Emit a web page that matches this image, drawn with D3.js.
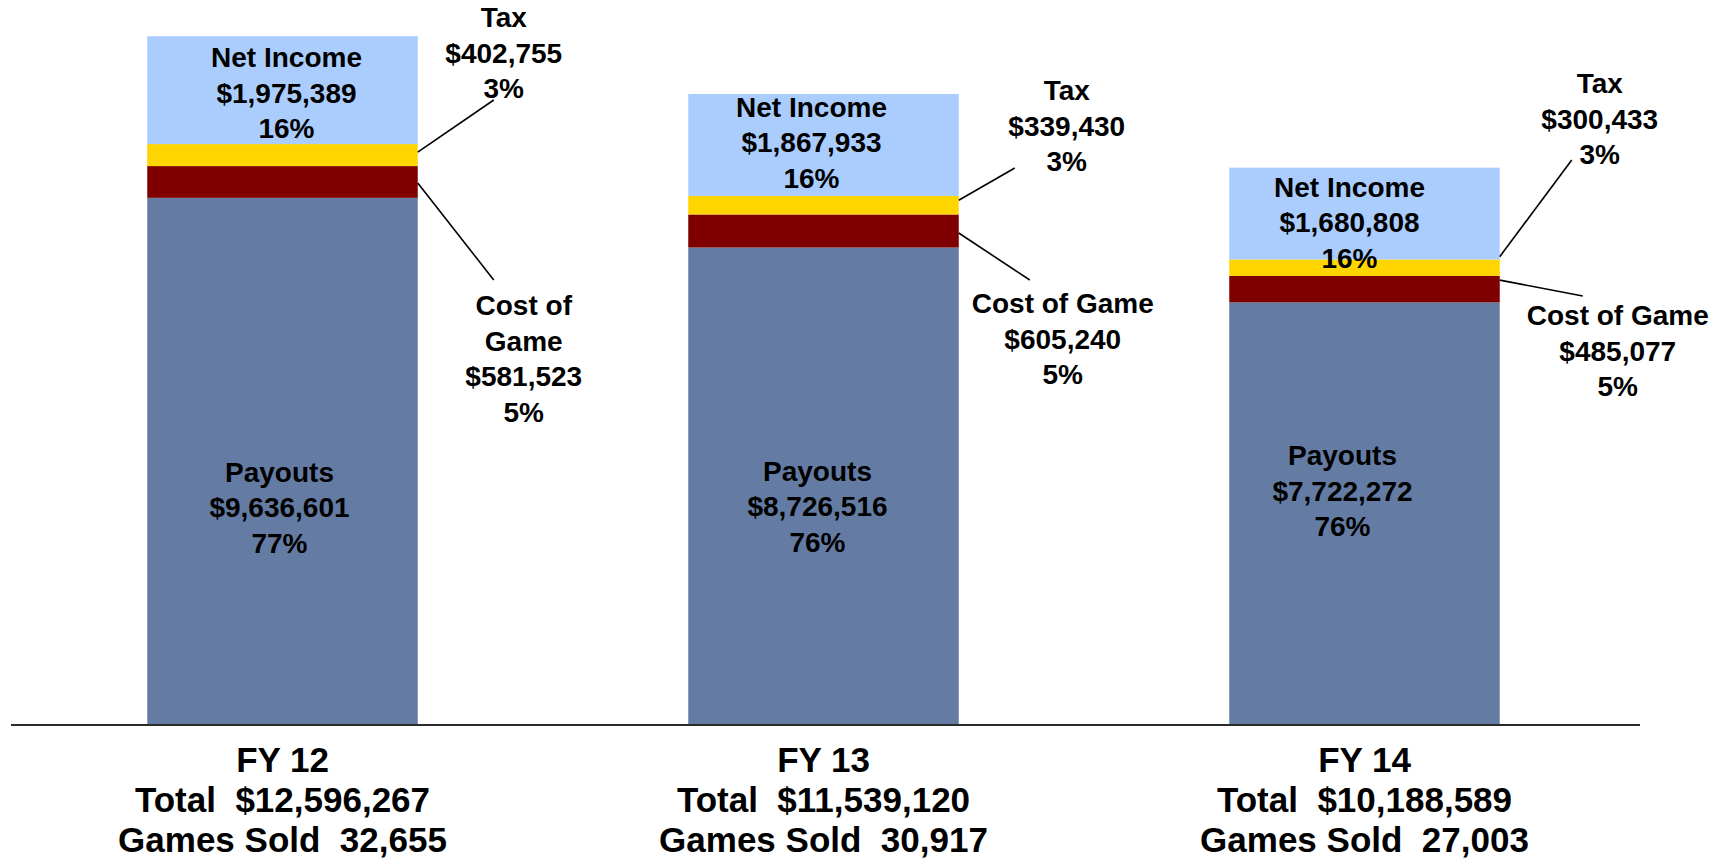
<!DOCTYPE html>
<html>
<head>
<meta charset="utf-8">
<script src="https://cdn.jsdelivr.net/npm/d3@7"></script>
<style>
  html, body { margin: 0; padding: 0; background: #ffffff; }
  svg { display: block; }
  text { font-family: "Liberation Sans", Arial, "DejaVu Sans", sans-serif; font-weight: bold; fill: #000; white-space: pre; }
</style>
</head>
<body>
<svg id="chart" width="1718" height="859"></svg>
<script>
// ---------------- data ----------------
const categories  = ["FY 12", "FY 13", "FY 14"];
const payouts     = [9636601, 8726516, 7722272];
const costOfGame  = [581523, 605240, 485077];
const tax         = [402755, 339430, 300433];
const netIncome   = [1975389, 1867933, 1680808];
const payoutsPct  = ["77%", "76%", "76%"];
const costPct     = ["5%", "5%", "5%"];
const taxPct      = ["3%", "3%", "3%"];
const netPct      = ["16%", "16%", "16%"];
const totals      = [12596267, 11539120, 10188589];
const gamesSold   = [32655, 30917, 27003];
const seriesNames = ["Payouts", "Cost of Game", "Tax", "Net Income"];
const costLabelLines = [["Cost of", "Game"], ["Cost of Game"], ["Cost of Game"]];

// ---------------- layout / style ----------------
const W = 1718, H = 859;
const baseY = 724;
const yMax = 13260000;
const colors = { "Payouts": "#647ca3", "Cost of Game": "#7f0000", "Tax": "#ffd500", "Net Income": "#aacdfe" };
const innerFont = 28, innerLH = 35.5;
const bottomFont = 35, bottomLH = 40;
const bottomY0 = 772;
// inner label nudges
const netLabel = [{dx: 4, dy: 31}, {dx: -12, dy: 23}, {dx: -15, dy: 29}];      // first baseline relative to segment top
const payLabel = [{dx: -3, dy: 21}, {dx: -6, dy: -5}, {dx: -22, dy: -48}];     // first baseline relative to segment middle
// callouts relative to bar right edge
const taxCallout  = [
  {tx: 86,  ty: 27,  ex: 76, ey: 100, sy: -3},
  {tx: 108, ty: 100, ex: 56, ey: 168, sy: -5},
  {tx: 100, ty: 93,  ex: 72, ey: 160, sy: -11}
];
const costCallout = [
  {tx: 106, ty: 315, ex: 76, ey: 280, sy: 1},
  {tx: 104, ty: 313, ex: 71, ey: 280, sy: 2},
  {tx: 118, ty: 325, ex: 83, ey: 296, sy: -9}
];

const fmtMoney = d3.format("$,");
const fmtNum = d3.format(",");

// ---------------- scales ----------------
const x = d3.scaleBand().domain(categories).range([12, 1635]).paddingInner(0.5).paddingOuter(0.25);
const y = d3.scaleLinear().domain([0, yMax]).range([baseY, 0]);

const svg = d3.select("#chart");

// table for stacking
const table = categories.map((c, i) => ({
  cat: c,
  "Payouts": payouts[i], "Cost of Game": costOfGame[i], "Tax": tax[i], "Net Income": netIncome[i]
}));
const stack = d3.stack().keys(seriesNames)(table);

// bars
svg.append("g").selectAll("g")
  .data(stack).join("g")
  .attr("fill", d => colors[d.key])
  .selectAll("rect")
  .data(d => d).join("rect")
  .attr("x", d => x(d.data.cat))
  .attr("width", x.bandwidth())
  .attr("y", d => y(d[1]))
  .attr("height", d => y(d[0]) - y(d[1]));

// axis baseline
svg.append("line")
  .attr("x1", 11).attr("x2", 1640)
  .attr("y1", baseY + 1).attr("y2", baseY + 1)
  .attr("stroke", "#2b2b2b").attr("stroke-width", 2.2);

function multiText(g, cx, y0, lines, size, lh) {
  const t = g.append("text").attr("text-anchor", "middle").attr("font-size", size);
  lines.forEach((l, k) => t.append("tspan").attr("x", cx).attr("y", y0 + k * lh).text(l));
  return t;
}

const labels = svg.append("g");
const S = {};
stack.forEach(s => S[s.key] = s);

categories.forEach((c, i) => {
  const cx = x(c) + x.bandwidth() / 2;
  const right = x(c) + x.bandwidth();

  // Net income label
  const ni = S["Net Income"][i];
  multiText(labels, cx + netLabel[i].dx, y(ni[1]) + netLabel[i].dy,
    ["Net Income", fmtMoney(netIncome[i]), netPct[i]], innerFont, innerLH);

  // Payouts label
  const pa = S["Payouts"][i];
  const pm = (y(pa[0]) + y(pa[1])) / 2;
  multiText(labels, cx + payLabel[i].dx, pm + payLabel[i].dy,
    ["Payouts", fmtMoney(payouts[i]), payoutsPct[i]], innerFont, innerLH);

  // Tax callout
  const tx = S["Tax"][i];
  const tmid = (y(tx[0]) + y(tx[1])) / 2;
  const tc = taxCallout[i];
  labels.append("line")
    .attr("x1", right).attr("y1", tmid + tc.sy)
    .attr("x2", right + tc.ex).attr("y2", tc.ey)
    .attr("stroke", "#000").attr("stroke-width", 1.6);
  multiText(labels, right + tc.tx, tc.ty, ["Tax", fmtMoney(tax[i]), taxPct[i]], innerFont, innerLH);

  // Cost callout
  const co = S["Cost of Game"][i];
  const cmid = (y(co[0]) + y(co[1])) / 2;
  const cc = costCallout[i];
  labels.append("line")
    .attr("x1", right).attr("y1", cmid + cc.sy)
    .attr("x2", right + cc.ex).attr("y2", cc.ey)
    .attr("stroke", "#000").attr("stroke-width", 1.6);
  multiText(labels, right + cc.tx, cc.ty,
    [...costLabelLines[i], fmtMoney(costOfGame[i]), costPct[i]], innerFont, innerLH);

  // bottom category labels
  multiText(labels, cx, bottomY0, [c, "Total  " + fmtMoney(totals[i]), "Games Sold  " + fmtNum(gamesSold[i])],
    bottomFont, bottomLH);
});
</script>
</body>
</html>
